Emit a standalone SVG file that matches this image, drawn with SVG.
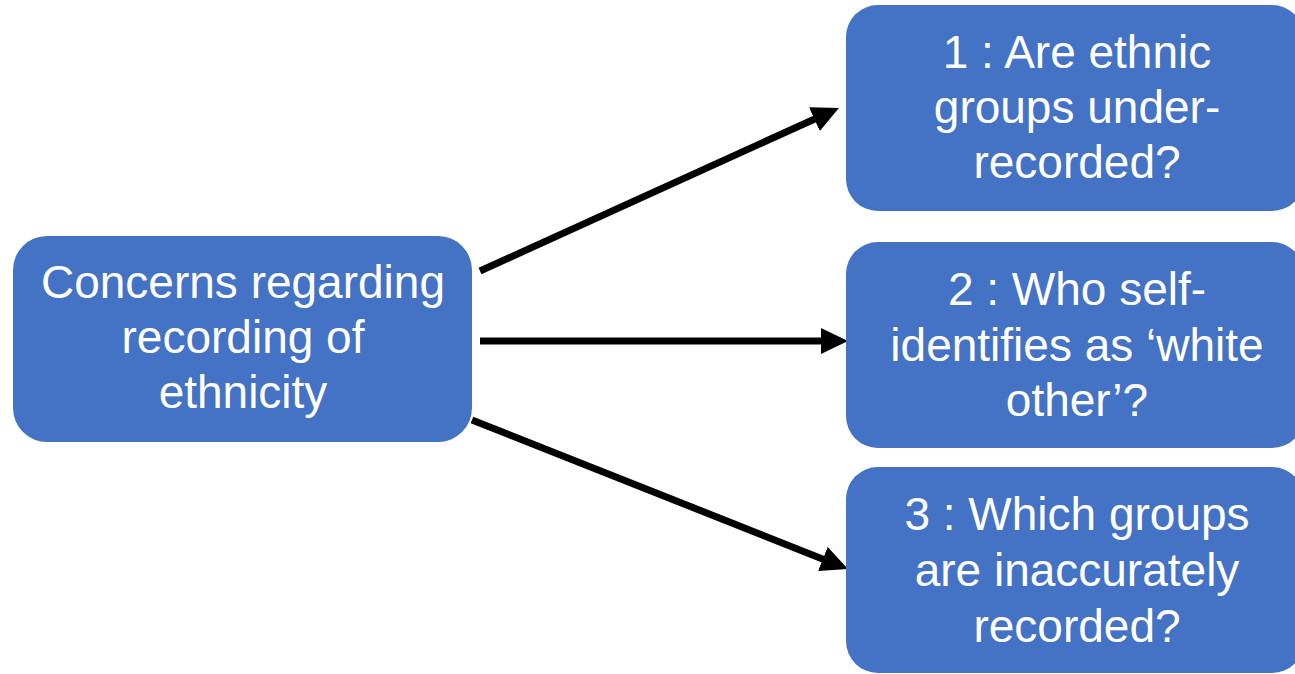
<svg xmlns="http://www.w3.org/2000/svg" width="1295" height="674" viewBox="0 0 1295 674">
  <style>
    .box { fill: #4472C4; }
    .lbl { font-family: "Liberation Sans", Arial, sans-serif; font-size: 46px; fill: #ffffff; text-anchor: middle; }
    .conn { stroke: #000000; stroke-width: 7; fill: none; marker-end: url(#arrow); }
  </style>
  <defs>
    <marker id="arrow" markerUnits="userSpaceOnUse" markerWidth="27" markerHeight="26" viewBox="0 0 27 26" refX="1" refY="13" orient="auto">
      <path d="M0,0 L27,13 L0,26 z" fill="#000000"/>
    </marker>
  </defs>
  <rect width="1295" height="674" fill="#ffffff"/>
  <g id="connectors">
    <line class="conn" x1="480" y1="271" x2="815.3" y2="118.7"/>
    <line class="conn" x1="480" y1="341" x2="822" y2="341"/>
    <line class="conn" x1="472" y1="420" x2="823.8" y2="559.4"/>
  </g>
  <g id="node-concerns">
    <rect class="box" x="13" y="236" width="459" height="206" rx="34" ry="34"/>
    <text class="lbl" x="243" y="298">Concerns regarding</text>
    <text class="lbl" x="243" y="353">recording of</text>
    <text class="lbl" x="243" y="408">ethnicity</text>
  </g>
  <g id="node-1">
    <rect class="box" x="846" y="5" width="458" height="206" rx="32" ry="32"/>
    <text class="lbl" x="1077" y="68">1 : Are ethnic</text>
    <text class="lbl" x="1077" y="123">groups under-</text>
    <text class="lbl" x="1077" y="178">recorded?</text>
  </g>
  <g id="node-2">
    <rect class="box" x="846" y="242" width="458" height="206" rx="32" ry="32"/>
    <text class="lbl" x="1077" y="305">2 : Who self-</text>
    <text class="lbl" x="1077" y="361">identifies as ‘white</text>
    <text class="lbl" x="1077" y="416">other’?</text>
  </g>
  <g id="node-3">
    <rect class="box" x="846" y="467" width="458" height="206" rx="32" ry="32"/>
    <text class="lbl" x="1077" y="530">3 : Which groups</text>
    <text class="lbl" x="1077" y="586">are inaccurately</text>
    <text class="lbl" x="1077" y="642">recorded?</text>
  </g>
</svg>
